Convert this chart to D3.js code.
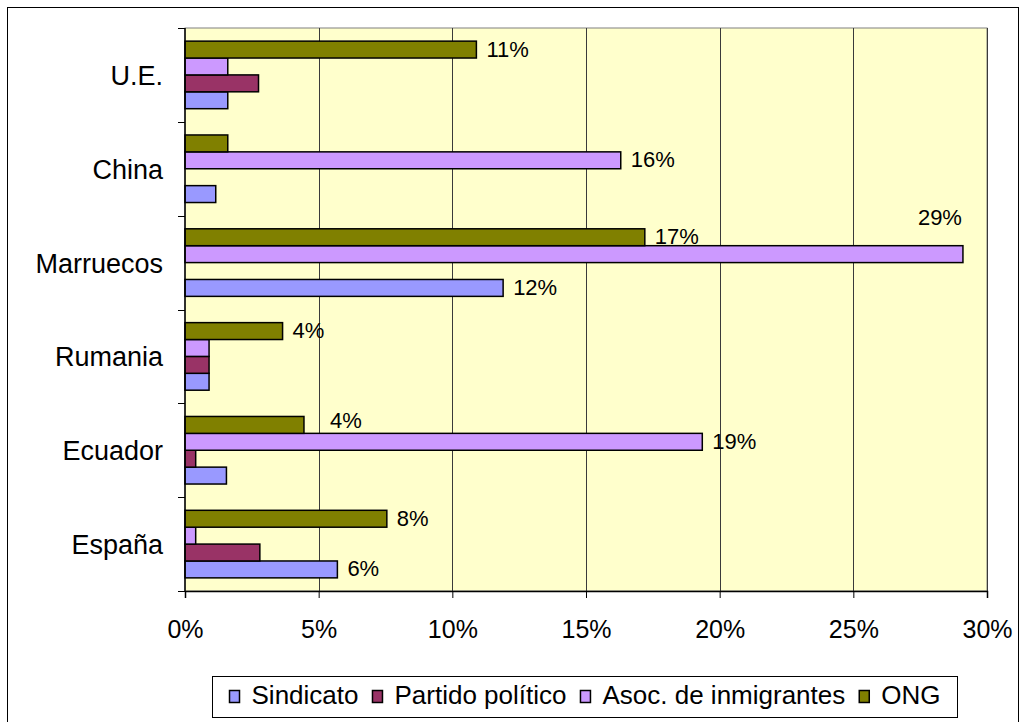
<!DOCTYPE html>
<html>
<head>
<meta charset="utf-8">
<script src="https://cdn.jsdelivr.net/npm/d3@7"></script>
<style>
  body { margin: 0; background: #fff; }
  svg text { font-family: "Liberation Sans", Arial, sans-serif; fill: #000; }
</style>
</head>
<body>
<div id="chart"></div>
<script>
// categories top to bottom as drawn
var categories = ["U.E.", "China", "Marruecos", "Rumania", "Ecuador", "España"];
var seriesNames = ["Sindicato", "Partido político", "Asoc. de inmigrantes", "ONG"];
var seriesColors = ["#9999FF", "#993366", "#CC99FF", "#808000"];

// values in %, same order as categories
var sindicato = [1.6, 1.15, 11.9, 0.9, 1.55, 5.7];
var partido   = [2.75, 0, 0, 0.9, 0.4, 2.8];
var asoc      = [1.6, 16.3, 29.1, 0.9, 19.35, 0.4];
var ong       = [10.9, 1.6, 17.2, 3.65, 4.45, 7.55];

var xTicks = [0, 5, 10, 15, 20, 25, 30];

// bars carrying a data label [category, series]
var labelled = [
    ["U.E.", "ONG"],
    ["China", "Asoc. de inmigrantes"],
    ["Marruecos", "ONG"],
    ["Marruecos", "Asoc. de inmigrantes"],
    ["Marruecos", "Sindicato"],
    ["Rumania", "ONG"],
    ["Ecuador", "ONG"],
    ["Ecuador", "Asoc. de inmigrantes"],
    ["España", "ONG"],
    ["España", "Sindicato"]
];

//----------layout----------
var W = 1027, H = 722;
var plot = { left: 185, right: 987, top: 28, bottom: 591 };
// labels that were dragged by hand in the original
var labelNudge = {
    "Marruecos|Asoc. de inmigrantes": { dx: -1, dy: -36, anchor: "end" },
    "Ecuador|ONG": { dx: 16, dy: -4, anchor: "start" }
};

var allValues = [sindicato, partido, asoc, ong];
var rows = [];
categories.forEach(function (c, i) {
    seriesNames.forEach(function (s, j) {
        rows.push({ cat: c, series: s, idx: j, value: allValues[j][i] });
    });
});

var svg = d3.select("#chart").append("svg")
    .attr("width", W)
    .attr("height", H);

// outer chart frame
svg.append("rect")
    .attr("x", 7.5).attr("y", 7.5)
    .attr("width", 1011).attr("height", 730)
    .attr("fill", "#fff")
    .attr("stroke", "#000")
    .attr("stroke-width", 1);

var x = d3.scaleLinear()
    .domain([0, 30])
    .range([plot.left, plot.right]);
var y0 = d3.scaleBand()
    .domain(categories)
    .range([plot.top, plot.bottom])
    .paddingInner(0.28)
    .paddingOuter(0.14);
// inside a group ONG sits on top, Sindicato at the bottom
var y1 = d3.scaleBand()
    .domain(seriesNames.slice().reverse())
    .range([0, y0.bandwidth()]);
var color = d3.scaleOrdinal().domain(seriesNames).range(seriesColors);

// plot background
svg.append("rect")
    .attr("x", plot.left).attr("y", plot.top)
    .attr("width", plot.right - plot.left)
    .attr("height", plot.bottom - plot.top)
    .attr("fill", "#FFFFCC")
    .attr("stroke", "#808080")
    .attr("stroke-width", 1);

// vertical gridlines
svg.append("g")
    .selectAll("line")
    .data(xTicks.slice(1))
    .enter().append("line")
    .attr("x1", function (d) { return Math.round(x(d)) + 0.5; })
    .attr("x2", function (d) { return Math.round(x(d)) + 0.5; })
    .attr("y1", plot.top)
    .attr("y2", plot.bottom)
    .attr("stroke", "#3a3a3a")
    .attr("stroke-width", 1);

// bars
svg.append("g")
    .selectAll("rect")
    .data(rows.filter(function (d) { return d.value > 0; }))
    .enter().append("rect")
    .attr("x", x(0))
    .attr("y", function (d) { return y0(d.cat) + y1(d.series); })
    .attr("width", function (d) { return x(d.value) - x(0); })
    .attr("height", y1.bandwidth())
    .attr("fill", function (d) { return color(d.series); })
    .attr("stroke", "#000")
    .attr("stroke-width", 1.5);

// data labels
var labelRows = rows.filter(function (d) {
    return labelled.some(function (l) { return l[0] === d.cat && l[1] === d.series; });
});
svg.append("g")
    .selectAll("text")
    .data(labelRows)
    .enter().append("text")
    .attr("x", function (d) {
        var n = labelNudge[d.cat + "|" + d.series];
        return x(d.value) + (n ? n.dx : 0) + (n && n.anchor === "end" ? 0 : 10);
    })
    .attr("y", function (d) {
        var n = labelNudge[d.cat + "|" + d.series];
        return y0(d.cat) + y1(d.series) + y1.bandwidth() / 2 + (n ? n.dy : 0) + 7;
    })
    .attr("text-anchor", function (d) {
        var n = labelNudge[d.cat + "|" + d.series];
        return n ? n.anchor : "start";
    })
    .style("font-size", "22px")
    .text(function (d) { return Math.round(d.value) + "%"; });

// x axis
var xAxis = d3.axisBottom(x)
    .tickValues(xTicks)
    .tickSize(7)
    .tickPadding(22)
    .tickFormat(function (d) { return d + "%"; });
var gx = svg.append("g")
    .attr("transform", "translate(0," + plot.bottom + ")")
    .call(xAxis);
gx.select(".domain").attr("stroke", "#000").attr("stroke-width", 1.5);
gx.selectAll(".tick line").attr("stroke", "#000");
gx.selectAll(".tick text")
    .style("font-size", "25px")
    .style("font-family", "'Liberation Sans', Arial, sans-serif");

// y axis: ticks on category boundaries
var yAxisG = svg.append("g");
yAxisG.append("line")
    .attr("x1", plot.left).attr("x2", plot.left)
    .attr("y1", plot.top).attr("y2", plot.bottom)
    .attr("stroke", "#000").attr("stroke-width", 1.5);
var step = y0.step();
yAxisG.selectAll("line.tk")
    .data(d3.range(categories.length + 1))
    .enter().append("line")
    .attr("class", "tk")
    .attr("x1", plot.left - 7).attr("x2", plot.left)
    .attr("y1", function (i) { return Math.round(plot.top + i * step) + 0.5; })
    .attr("y2", function (i) { return Math.round(plot.top + i * step) + 0.5; })
    .attr("stroke", "#000");
yAxisG.selectAll("text")
    .data(categories)
    .enter().append("text")
    .attr("x", 163)
    .attr("y", function (d) { return y0(d) + y0.bandwidth() / 2 + 10; })
    .attr("text-anchor", "end")
    .style("font-size", "27px")
    .text(function (d) { return d; });

// legend
var legend = svg.append("g");
legend.append("rect")
    .attr("x", 212.5).attr("y", 676.5)
    .attr("width", 745).attr("height", 41)
    .attr("fill", "#fff")
    .attr("stroke", "#000")
    .attr("stroke-width", 1);
var items = legend.selectAll("g.item")
    .data(seriesNames)
    .enter().append("g")
    .attr("class", "item");
items.append("rect")
    .attr("width", 10).attr("height", 12)
    .attr("y", 690.5)
    .attr("fill", function (d) { return color(d); })
    .attr("stroke", "#000")
    .attr("stroke-width", 1.5);
items.append("text")
    .attr("x", 22)
    .attr("y", 704)
    .style("font-size", "26px")
    .text(function (d) { return d; });
var cursor = 0, offsets = [];
items.each(function () {
    offsets.push(cursor);
    cursor += 22 + d3.select(this).select("text").node().getComputedTextLength() + 14;
});
cursor -= 14;
var start = 212.5 + (745 - cursor) / 2;
items.attr("transform", function (d, i) { return "translate(" + (start + offsets[i]) + ",0)"; });
</script>
</body>
</html>
